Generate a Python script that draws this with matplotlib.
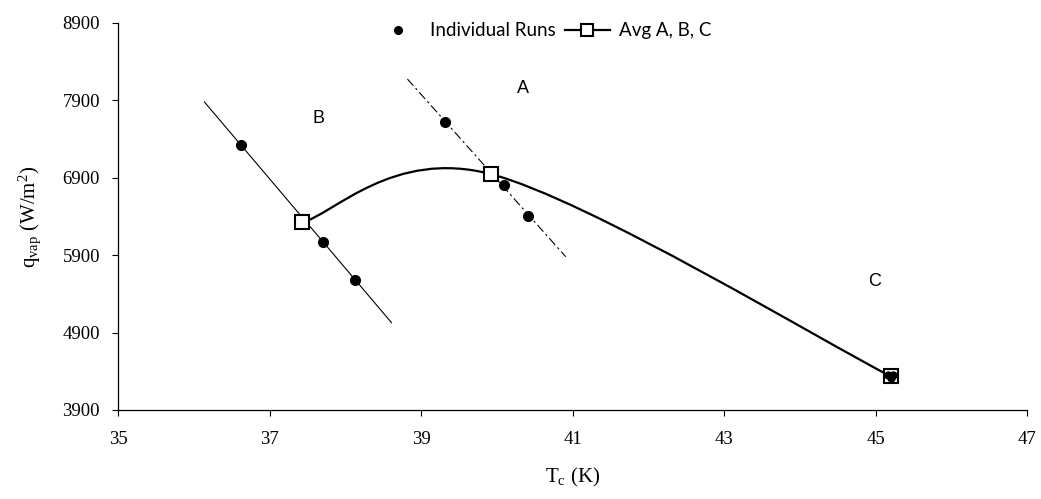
import numpy as np
import matplotlib
matplotlib.use("Agg")
import matplotlib.pyplot as plt
from matplotlib.path import Path
from matplotlib.patches import PathPatch
from matplotlib.lines import Line2D

plt.rcParams["font.family"] = ["Liberation Serif", "DejaVu Serif"]
plt.rcParams["mathtext.fontset"] = "custom"
plt.rcParams["mathtext.rm"] = "Liberation Serif"
plt.rcParams["mathtext.it"] = "Liberation Serif:italic"

# ==========================
# data: individual runs at three conditions + averages
# ==========================
runs_a_t = [39.31, 40.10, 40.41]
runs_a_q = [7626, 6810, 6400]

runs_b_t = [36.62, 37.71, 38.13]
runs_b_q = [7326, 6065, 5584]

runs_c_t = [45.17, 45.23, 45.20]
runs_c_q = [4350, 4350, 4312]

avg_t = [37.43, 39.92, 45.20]
avg_q = [6323, 6948, 4336]

# extent of fitted lines through each group
fit_a_range = [38.82, 40.91]
fit_b_range = [36.14, 38.61]

group_labels = ["A", "B", "C"]
group_label_pos = [(40.35, 8048), (37.64, 7661), (44.99, 5558)]

x_ticks = [35, 37, 39, 41, 43, 45, 47]
y_ticks = [3900, 4900, 5900, 6900, 7900, 8900]


def smooth_path(xs, ys, k=1.0 / 6):
    # cubic bezier through points, tangents from neighbours (spreadsheet style)
    pts = np.column_stack([xs, ys]).astype(float)
    n = len(pts)
    verts = [pts[0]]
    codes = [Path.MOVETO]
    for i in range(n - 1):
        p0 = pts[i - 1] if i > 0 else pts[i]
        p1 = pts[i]
        p2 = pts[i + 1]
        p3 = pts[i + 2] if i + 2 < n else pts[i + 1]
        c1 = p1 + (p2 - p0) * k
        c2 = p2 - (p3 - p1) * k
        verts += [c1, c2, p2]
        codes += [Path.CURVE4] * 3
    return Path(verts, codes)


fig = plt.figure(figsize=(10.41, 4.99), dpi=100)
ax = fig.add_axes([0.1134, 0.1784, 0.8732, 0.7756])

# fitted lines for groups A and B
xa = np.array(fit_a_range)
pa = np.polyfit(runs_a_t, runs_a_q, 1)
ax.plot(xa, np.polyval(pa, xa), color="black", lw=0.8,
        linestyle=(0, (8, 3, 2, 3)))

xb = np.array(fit_b_range)
pb = np.polyfit(runs_b_t, runs_b_q, 1)
ax.plot(xb, np.polyval(pb, xb), color="black", lw=0.8)

# smoothed average curve
ax.add_patch(PathPatch(smooth_path(avg_t, avg_q), facecolor="none",
                       edgecolor="black", lw=1.6, zorder=3))

# individual runs
for t, q in [(runs_a_t, runs_a_q), (runs_b_t, runs_b_q), (runs_c_t, runs_c_q)]:
    ax.plot(t, q, linestyle="none", marker="o", markersize=7,
            color="black", zorder=4)

# averages
ax.plot(avg_t, avg_q, linestyle="none", marker="s", markersize=10,
        markerfacecolor="white", markeredgecolor="black",
        markeredgewidth=1.5, zorder=5)
ax.plot(runs_c_t, runs_c_q, linestyle="none", marker="o", markersize=5,
        color="black", zorder=6)

for lab, (tx, ty) in zip(group_labels, group_label_pos):
    ax.text(tx, ty, lab, fontsize=13, family=["Liberation Sans"],
            ha="center", va="center")

ax.set_xlim(35, 47)
ax.set_ylim(3900, 8900)
ax.set_xticks(x_ticks)
ax.set_yticks(y_ticks)
ax.tick_params(direction="out", length=4, width=0.8, labelsize=13.5)
ax.tick_params(axis="x", pad=11)
ax.tick_params(axis="y", pad=9)

for side in ["top", "right"]:
    ax.spines[side].set_visible(False)
for side in ["left", "bottom"]:
    ax.spines[side].set_linewidth(0.9)

ax.set_xlabel(r"T$_{\rm c}$ (K)", fontsize=15, labelpad=13)
ax.set_ylabel(r"q$_{\rm vap}$ (W/m$^2$)", fontsize=15, labelpad=14)

# legend
handles = [
    Line2D([], [], linestyle="none", marker="o", markersize=5.5, color="black"),
    Line2D([], [], color="black", lw=1.6, marker="s", markersize=9,
           markerfacecolor="white", markeredgecolor="black",
           markeredgewidth=1.5),
]
ax.legend(handles, ["Individual Runs", "Avg A, B, C"], ncol=2,
          frameon=False, loc="upper center", bbox_to_anchor=(0.468, 1.045),
          prop={"family": "Lato", "size": 13.5},
          handlelength=2.4, handletextpad=0.5, columnspacing=0.5)

plt.savefig("out.png", dpi=100)
plt.close()
